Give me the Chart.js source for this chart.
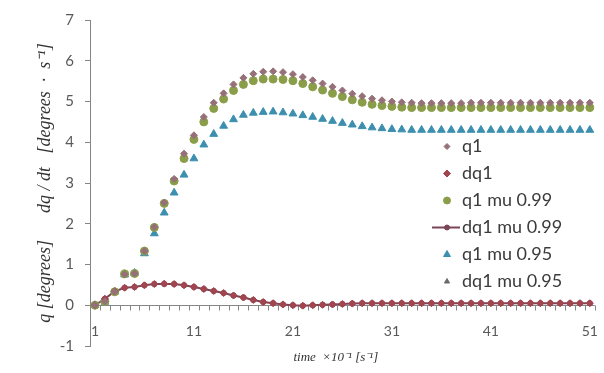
<!DOCTYPE html>
<html>
<head>
<meta charset="utf-8">
<script src="https://cdn.jsdelivr.net/npm/chart.js@4/dist/chart.umd.min.js"></script>
<style>
  html, body { margin: 0; padding: 0; background: #ffffff; }
  #wrap { width: 604px; height: 373px; position: relative; }
</style>
</head>
<body>
<div id="wrap"><canvas id="c" width="604" height="373"></canvas></div>
<script>
// ---- data ----
const categories = [1,2,3,4,5,6,7,8,9,10,11,12,13,14,15,16,17,18,19,20,21,22,23,24,25,26,27,28,29,30,31,32,33,34,35,36,37,38,39,40,41,42,43,44,45,46,47,48,49,50,51];
const tickLabels = ['1','11','21','31','41','51'];
const yTicks = [-1,0,1,2,3,4,5,6,7];

const q1 = [0,0.1,0.33,0.76,0.78,1.33,1.92,2.52,3.1,3.72,4.17,4.62,4.97,5.2,5.42,5.58,5.68,5.73,5.74,5.72,5.67,5.6,5.52,5.44,5.36,5.27,5.19,5.13,5.07,5.03,5.0,4.98,4.97,4.96,4.96,4.96,4.96,4.96,4.97,4.97,4.97,4.97,4.97,4.97,4.97,4.97,4.97,4.97,4.97,4.97,4.97];
const dq1 = [0,0.16,0.34,0.43,0.45,0.49,0.52,0.53,0.52,0.49,0.45,0.4,0.35,0.3,0.24,0.19,0.13,0.08,0.05,0.02,0.0,-0.01,0.0,0.01,0.02,0.03,0.04,0.05,0.05,0.05,0.05,0.05,0.05,0.05,0.05,0.05,0.05,0.05,0.05,0.05,0.05,0.05,0.05,0.05,0.05,0.05,0.05,0.05,0.05,0.05,0.05];
const q1mu099 = [0,0.1,0.33,0.77,0.78,1.33,1.91,2.5,3.05,3.6,4.07,4.5,4.83,5.06,5.27,5.42,5.51,5.55,5.55,5.54,5.51,5.44,5.36,5.28,5.2,5.12,5.04,4.98,4.93,4.9,4.88,4.86,4.85,4.85,4.85,4.85,4.85,4.85,4.85,4.85,4.85,4.85,4.85,4.85,4.85,4.85,4.85,4.85,4.85,4.85,4.85];
const dq1mu099 = [0,0.16,0.34,0.43,0.45,0.49,0.52,0.52,0.52,0.49,0.45,0.4,0.35,0.3,0.24,0.19,0.13,0.08,0.05,0.02,0.0,-0.01,0.0,0.01,0.02,0.03,0.04,0.05,0.05,0.05,0.05,0.05,0.05,0.05,0.05,0.05,0.05,0.05,0.05,0.05,0.05,0.05,0.05,0.05,0.05,0.05,0.05,0.05,0.05,0.05,0.05];
const q1mu095 = [0,0.08,0.33,0.75,0.79,1.27,1.76,2.27,2.76,3.2,3.6,3.94,4.2,4.4,4.56,4.67,4.72,4.74,4.75,4.73,4.7,4.66,4.62,4.57,4.52,4.47,4.43,4.39,4.36,4.34,4.32,4.31,4.3,4.3,4.3,4.3,4.3,4.3,4.3,4.3,4.3,4.3,4.3,4.3,4.3,4.3,4.3,4.3,4.3,4.3,4.3];
const dq1mu095 = [0,0.15,0.33,0.43,0.45,0.49,0.51,0.52,0.51,0.49,0.45,0.4,0.35,0.3,0.24,0.19,0.13,0.08,0.05,0.02,0.0,-0.01,0.0,0.01,0.02,0.03,0.04,0.05,0.05,0.05,0.05,0.05,0.05,0.05,0.05,0.05,0.05,0.05,0.05,0.05,0.05,0.05,0.05,0.05,0.05,0.05,0.05,0.05,0.05,0.05,0.05];

const AXIS = '#868686';
const TEXT = '#595959';

// ---- plugin: x axis line at y=0 with between-category tick marks ----
const zeroAxis = {
  id: 'zeroAxis',
  beforeDatasetsDraw(chart) {
    const {ctx, scales: {x, y}} = chart;
    const y0 = Math.round(y.getPixelForValue(0)) + 0.5;
    const step = x.getPixelForValue(1) - x.getPixelForValue(0);
    ctx.save();
    ctx.strokeStyle = AXIS;
    ctx.lineWidth = 1;
    ctx.beginPath();
    ctx.moveTo(chart.chartArea.left, y0);
    ctx.lineTo(chart.chartArea.right, y0);
    for (let i = 0; i <= categories.length; i++) {
      const px = Math.round(x.getPixelForValue(i) - step / 2) + 0.5;
      ctx.moveTo(px, y0);
      ctx.lineTo(px, y0 + 5);
    }
    ctx.stroke();
    ctx.restore();
  }
};

// ---- plugin: legend inside plot ----
const innerLegend = {
  id: 'innerLegend',
  afterDraw(chart, args, opts) {
    const {ctx} = chart;
    ctx.save();
    chart.data.datasets.forEach((ds, k) => {
      const cy = opts.y + k * opts.gap;
      const mx = opts.x;
      if (ds.showLine !== false) {
        ctx.strokeStyle = ds.borderColor;
        ctx.lineWidth = ds.borderWidth;
        ctx.beginPath();
        ctx.moveTo(mx - 15, cy);
        ctx.lineTo(mx + 13, cy);
        ctx.stroke();
      }
      ctx.fillStyle = ds.pointBackgroundColor;
      ctx.strokeStyle = ds.pointBorderColor;
      ctx.lineWidth = 1;
      Chart.helpers.drawPoint(ctx, {pointStyle: ds.pointStyle, radius: ds.legendRadius, rotation: 0, borderWidth: 1}, mx, cy);
      ctx.fillStyle = '#3b3b3b';
      ctx.font = opts.font;
      ctx.textAlign = 'left';
      ctx.textBaseline = 'middle';
      ctx.fillText(ds.label, opts.textX, cy);
    });
    ctx.restore();
  }
};

function pts(label, data, style, color, radius, legendRadius) {
  return {
    label, data, showLine: false,
    pointStyle: style, pointRadius: radius, pointHoverRadius: radius,
    pointBackgroundColor: color, pointBorderColor: color, pointBorderWidth: 1,
    borderColor: color, backgroundColor: color, legendRadius
  };
}

const datasets = [
  pts('q1', q1, 'rectRot', '#967078', 3.5, 3),
  pts('dq1', dq1, 'rectRot', '#a3454f', 3.5, 3.5),
  pts('q1 mu 0.99', q1mu099, 'circle', '#8a9e4a', 4, 3.5),
  {
    label: 'dq1 mu 0.99', data: dq1mu099, showLine: true,
    borderColor: '#7a4556', borderWidth: 2, tension: 0,
    pointStyle: 'circle', pointRadius: 2, pointHoverRadius: 2,
    pointBackgroundColor: '#7a4556', pointBorderColor: '#7a4556', legendRadius: 2.5
  },
  pts('q1 mu 0.95', q1mu095, 'triangle', '#3c8fae', 4.5, 4),
  pts('dq1 mu 0.95', dq1mu095, 'triangle', '#6b6b6b', 2.5, 3)
];

new Chart(document.getElementById('c'), {
  type: 'line',
  data: { labels: categories, datasets },
  plugins: [zeroAxis, innerLegend],
  options: {
    responsive: false,
    animation: false,
    layout: { padding: { top: 17, right: 4, left: 0, bottom: 0 } },
    plugins: {
      legend: { display: false },
      tooltip: { enabled: false },
      innerLegend: { x: 447, textX: 462, y: 146.5, gap: 27, font: '18px Lato' }
    },
    scales: {
      x: {
        type: 'category',
        offset: true,
        grid: { display: false },
        border: { display: false },
        ticks: {
          autoSkip: false, maxRotation: 0, minRotation: 0,
          mirror: true,
          padding: 6,
          color: TEXT,
          font: { family: 'Lato', size: 14 },
          callback: (v, i) => tickLabels.includes(String(categories[i])) ? String(categories[i]) : ''
        },
        title: {
          display: true,
          text: 'time  ×10⁻¹ [s⁻¹]\u2003',
          color: '#333333',
          font: { family: 'Liberation Serif', size: 13, style: 'italic' },
          padding: { top: 0, bottom: 8 }
        },
        afterFit: (s) => { s.height = 27; }
      },
      y: {
        min: -1, max: 7,
        afterBuildTicks: (s) => { s.ticks = yTicks.map(v => ({ value: v })); },
        grid: { display: true, drawOnChartArea: false, drawTicks: true, tickLength: 5, color: AXIS },
        border: { display: true, color: AXIS },
        ticks: {
          padding: 11,
          color: TEXT,
          font: { family: 'Lato', size: 15 }
        },
        title: {
          display: true,
          text: 'q [degrees]      dq / dt   [degrees  ·  s⁻¹]',
          color: '#333333',
          font: { family: 'Liberation Serif', size: 18, style: 'italic' },
          padding: { top: 34, bottom: 0 }
        },
        afterFit: (s) => { s.width = 90; }
      }
    }
  }
});
</script>
</body>
</html>
